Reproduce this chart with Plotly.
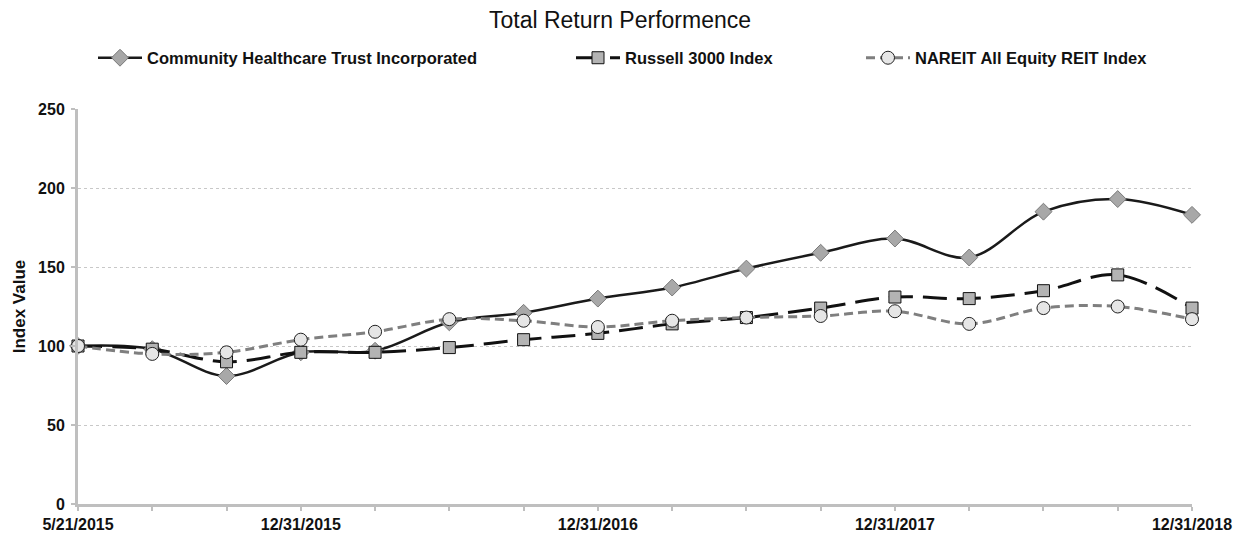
import plotly.graph_objects as go

# ---- data ----
dates = ["5/21/2015", "6/30/2015", "9/30/2015", "12/31/2015", "3/31/2016", "6/30/2016",
         "9/30/2016", "12/31/2016", "3/31/2017", "6/30/2017", "9/30/2017", "12/31/2017",
         "3/31/2018", "6/30/2018", "9/30/2018", "12/31/2018"]
labeled_dates = ["5/21/2015", "12/31/2015", "12/31/2016", "12/31/2017", "12/31/2018"]
chct = [100, 98, 81, 96, 97, 115, 121, 130, 137, 149, 159, 168, 156, 185, 193, 183]
russell = [100, 98, 90, 96, 96, 99, 104, 108, 114, 118, 124, 131, 130, 135, 145, 124]
nareit = [100, 95, 96, 104, 109, 117, 116, 112, 116, 118, 119, 122, 114, 124, 125, 117]
y_ticks = [0, 50, 100, 150, 200, 250]

names = ["Community Healthcare Trust Incorporated", "Russell 3000 Index", "NAREIT All Equity REIT Index"]

W, H = 1240, 533
FONT = "Arial, Liberation Sans, sans-serif"
xs = list(range(len(dates)))

fig = go.Figure()

fig.add_trace(go.Scatter(
    x=xs, y=chct, name=names[0], customdata=dates, legend="legend", showlegend=True,
    mode="lines+markers", line=dict(color="#1a1a1a", width=2.5, shape="spline", smoothing=1),
    marker=dict(symbol="diamond", size=13, color="#a8a8a8", line=dict(color="#7a7a7a", width=1)),
    cliponaxis=False, hovertemplate="%{customdata}: %{y}<extra>%{fullData.name}</extra>"))

fig.add_trace(go.Scatter(
    x=xs, y=russell, name=names[1], customdata=dates, legend="legend2", showlegend=True,
    mode="lines+markers", line=dict(color="#111111", width=3, shape="spline", smoothing=1, dash="24px,10px"),
    marker=dict(symbol="square", size=12, color="#b3b3b3", line=dict(color="#111111", width=1)),
    cliponaxis=False, hovertemplate="%{customdata}: %{y}<extra>%{fullData.name}</extra>"))

fig.add_trace(go.Scatter(
    x=xs, y=nareit, name=names[2], customdata=dates, legend="legend3", showlegend=True,
    mode="lines+markers", line=dict(color="#7f7f7f", width=3, shape="spline", smoothing=1, dash="9px,5px"),
    marker=dict(symbol="circle", size=13, color="#e6e6e6", line=dict(color="#222222", width=1)),
    cliponaxis=False, hovertemplate="%{customdata}: %{y}<extra>%{fullData.name}</extra>"))

legend_common = dict(
    orientation="h", xref="container", yref="container", xanchor="left", yanchor="middle",
    font=dict(family=FONT, size=16.5, color="#111111", weight="bold"),
    bgcolor="rgba(0,0,0,0)", itemwidth=44, tracegroupgap=0, visible=True,
)

fig.update_layout(
    width=W, height=H,
    showlegend=True,
    paper_bgcolor="white", plot_bgcolor="white",
    margin=dict(l=78, r=48, t=109, b=29, autoexpand=False),
    font=dict(family=FONT, color="#111111"),
    title=dict(text="Total Return Performence", x=0.5, xref="container", xanchor="center",
               y=1 - 20 / H, yref="container", yanchor="middle",
               font=dict(family=FONT, size=23, color="#111111")),
    legend=dict(**legend_common, x=93 / W, y=1 - 58 / H),
    legend2=dict(**legend_common, x=571 / W, y=1 - 58 / H),
    legend3=dict(**legend_common, x=861 / W, y=1 - 58 / H),
    xaxis=dict(
        range=[0, len(dates) - 1], tickmode="array", tickvals=xs,
        ticktext=[d if d in labeled_dates else "" for d in dates],
        showgrid=False, zeroline=False,
        showline=True, linecolor="#bfbfbf", linewidth=3,
        ticks="outside", ticklen=4, tickwidth=2, tickcolor="#bfbfbf",
        tickfont=dict(family=FONT, size=16, color="#111111", weight="bold"),
        fixedrange=True,
    ),
    yaxis=dict(
        range=[0, 250], tickmode="array", tickvals=y_ticks,
        showgrid=True, gridcolor="#c8c8c8", griddash="dot", gridwidth=1,
        zeroline=False, showline=True, linecolor="#bfbfbf", linewidth=3,
        ticks="outside", ticklen=4, tickwidth=2, tickcolor="#bfbfbf",
        tickfont=dict(family=FONT, size=16, color="#111111", weight="bold"),
        ticklabelstandoff=3,
        title=dict(text="Index Value", standoff=9,
                   font=dict(family=FONT, size=17, color="#111111", weight="bold")),
        fixedrange=True,
    ),
)

fig.write_html("out.html", config={"displayModeBar": False},
               post_script="document.body.style.margin='0';document.body.style.overflow='hidden';")
